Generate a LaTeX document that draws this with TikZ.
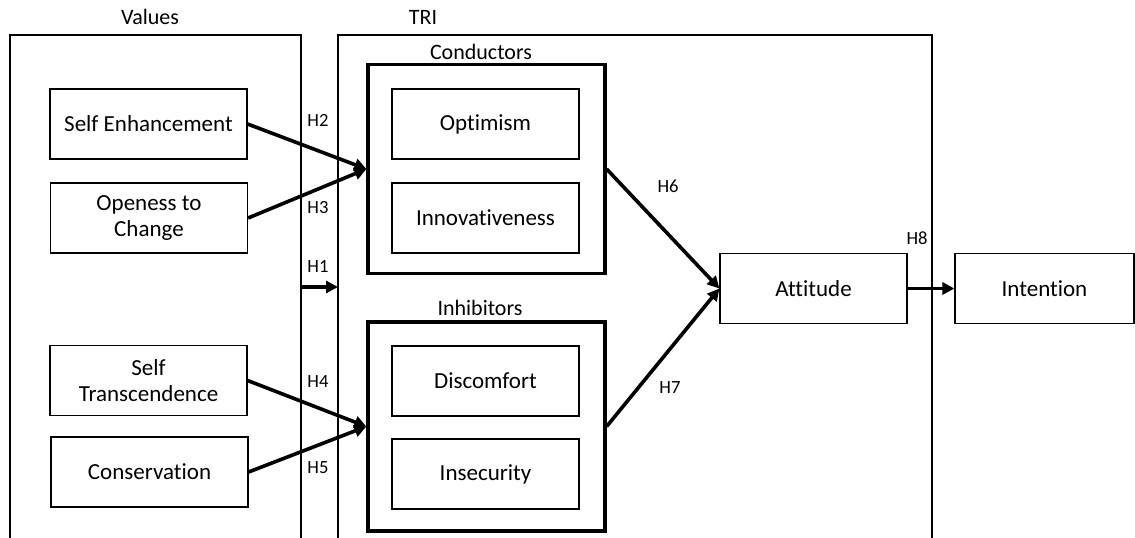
\documentclass[tikz,border=0pt]{standalone}
\usepackage{fontspec}
\setmainfont{Carlito}[Ligatures=NoCommon]
\usetikzlibrary{arrows.meta}

\begin{document}
\begin{tikzpicture}[x=0.5pt,y=-0.5pt,
    box/.style={draw,line width=0.6pt,minimum width=98.5pt,minimum height=35pt,
      inner sep=0pt,align=center,font=\fontsize{11.5}{13}\selectfont},
    tribox/.style={box,minimum width=93.5pt},
    setbox/.style={draw,line width=1.6pt,minimum width=118.5pt,minimum height=104.5pt},
    groupbox/.style={draw,line width=0.6pt},
    title/.style={font=\fontsize{11}{13}\selectfont},
    hyp/.style={font=\fontsize{9.3}{11}\selectfont},
    link/.style={line width=1.8pt,-{Triangle[length=6pt,width=6pt]}}]
      \useasboundingbox (0,0) rectangle (1135,537);
      \clip (0,0) rectangle (1135,537);
      % group frames, open at the bottom
      \draw[groupbox] (10,560) rectangle (301,35);
      \draw[groupbox] (338,560) rectangle (932,35);
      \node[title] (values) at (150,17) {Values};
      \node[title] (tri) at (423,17) {TRI};
      % values
      \node[box] (selfenh) at (148.5,124) {Self Enhancement};
      \node[box] (open) at (149,218) {Openess to\\Change};
      \node[box] (selftr) at (148.5,380.5) {Self\\Transcendence};
      \node[box] (cons) at (149.5,472) {Conservation};
      % TRI dimensions
      \node[setbox] (cond) at (486.5,169) {};
      \node[setbox] (inhib) at (486.5,426.5) {};
      \node[title] (condlab) at (481,52) {Conductors};
      \node[title] (inhiblab) at (480,308) {Inhibitors};
      \node[tribox] (optim) at (485.5,124) {Optimism};
      \node[tribox] (innov) at (485.5,218) {Innovativeness};
      \node[tribox] (disc) at (485.5,381) {Discomfort};
      \node[tribox] (insec) at (485.5,474) {Insecurity};
      % outcomes
      \node[tribox] (att) at (813.5,288.5) {Attitude};
      \node[box,minimum width=89.5pt] (intent) at (1044.5,288.5) {Intention};
      \coordinate (hstart) at (301,287);
      \coordinate (hend) at (338,287);
      \foreach \i/\j in {selfenh/cond, open/cond, selftr/inhib, cons/inhib} {
	\draw[link] (\i.east) -- (\j.west);
      };
      \foreach \i/\j in {cond/att, inhib/att, att/intent} {
	\draw[link] (\i.east) -- (\j.west);
      };
      \draw[link] (hstart) -- (hend);
      % hypotheses
      \foreach \n/\x/\y in {1/318/267, 2/318/120, 3/318/208, 4/318/382,
	  5/318/468, 6/668/186, 7/670/388, 8/917/238} {
	\node[hyp] (h\n) at (\x,\y) {H\n};
      };
    \end{tikzpicture}
\end{document}
